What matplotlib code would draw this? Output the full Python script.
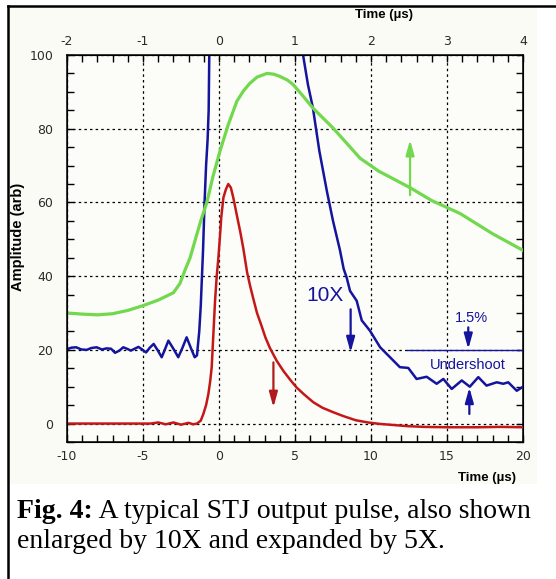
import matplotlib
matplotlib.use("Agg")
import matplotlib.pyplot as plt
from matplotlib.lines import Line2D
from matplotlib.patches import Rectangle
from matplotlib.ticker import MultipleLocator

plt.rcParams['axes.unicode_minus'] = False

# ---------------- data ----------------
# main pulse (bottom axis, microseconds)
red_t = [-10, -8, -6, -4.5, -4, -3.5, -3, -2.5, -2, -1.7, -1.45, -1.2, -1.03, -0.85,
         -0.7, -0.58, -0.48, -0.37, -0.26, -0.15, -0.05, 0.05, 0.15, 0.29, 0.45, 0.61,
         0.78, 0.94, 1.2, 1.4, 1.6, 1.85, 2.05, 2.25, 2.5, 2.8, 3.05, 3.35, 3.8, 4.25,
         4.7, 5.1, 5.6, 6.2, 6.8, 7.5, 8.2, 9.0, 9.8, 10.6, 11.5, 12.4, 13.5, 15, 17,
         18.5, 20]
red_a = [0, 0, 0, 0, 0.3, -0.2, 0.3, -0.3, 0.2, -0.2, 0, 0.8, 2.6, 5,
         8, 11.5, 15.3, 24.3, 33.3, 40, 44.5, 50, 56, 61.3, 63.5, 65,
         64, 61.3, 56, 52, 47.5, 41, 37.3, 34, 30, 26.5, 23.4, 20.5, 17, 14.2,
         11.8, 9.8, 7.9, 5.8, 4.3, 3.1, 2, 0.9, 0.3, -0.1, -0.4, -0.7, -0.9, -1, -1,
         -0.9, -1]

# pulse enlarged 10X (bottom axis)
blue_t = [-10, -9.7, -9.4, -9.05, -8.7, -8.4, -8.05, -7.7, -7.4, -7.1, -6.84, -6.55,
          -6.3, -6.0, -5.8, -5.55, -5.3, -5.05, -4.8, -4.55, -4.3, -4.05, -3.77, -3.55,
          -3.33, -3.0, -2.68, -2.4, -2.13, -1.85, -1.6, -1.45, -1.3, -1.2, -1.05, -0.95,
          -0.85, -0.75, -0.68, -0.64, -0.6, 5.5, 5.53, 5.85, 6.18, 6.6, 7.1, 7.5, 7.96,
          8.2, 8.4, 8.62, 9.06, 9.39, 9.93, 10.6, 11.25, 11.9, 12.45, 13.0, 13.66,
          14.32, 14.76, 15.31, 15.97, 16.5, 17.06, 17.6, 18.27, 18.7, 19.03, 19.59, 20]
blue_a = [20.2, 20.6, 20.7, 20.1, 20.0, 20.5, 20.7, 20.1, 20.4, 20.3, 19.2, 19.8,
          20.7, 20.2, 19.8, 20.3, 20.8, 20.1, 19.3, 20.6, 21.6, 20.0, 18.0, 20.2,
          22.5, 20.3, 18.0, 20.6, 23.4, 20.5, 18.0, 18.5, 25, 32, 47, 60,
          70, 77, 85, 100, 110, 110, 100, 92, 85.6, 74, 63, 55, 47,
          42, 39.6, 36, 33.3, 28, 25.2, 20.7, 18, 15.3, 15.1, 12.1, 12.7,
          10.8, 12.1, 9.4, 11.7, 10.0, 12.6, 10.3, 11.2, 10.8, 11.2, 8.9, 10]

# pulse expanded 5X (top axis, microseconds)
green_t = [-2.0, -1.8, -1.6, -1.4, -1.2, -1.0, -0.8, -0.6, -0.514, -0.44, -0.38,
           -0.316, -0.24, -0.16, -0.08, 0.014, 0.12, 0.236, 0.32, 0.4, 0.5, 0.632,
           0.72, 0.8, 0.9, 0.974, 1.1, 1.236, 1.5, 1.856, 2.1, 2.514, 2.8, 3.172,
           3.6, 4.0]
green_a = [30, 29.7, 29.5, 29.8, 30.7, 32, 33.5, 35.5, 38, 42, 45,
           49.6, 55, 60, 67, 74, 81, 87.5, 90.2, 92.2, 94, 95,
           94.8, 94.2, 93.2, 92, 89, 85.6, 80.2, 72, 68.5, 64, 60.5, 57,
           51.5, 47]

bottom_ticks = [-10, -5, 0, 5, 10, 15, 20]
top_ticks = [-2, -1, 0, 1, 2, 3, 4]
y_ticks = [0, 20, 40, 60, 80, 100]

# ---------------- colours ----------------
C_RED = '#c41818'
C_BLUE = '#14149e'
C_GREEN = '#72d84e'
TICKFONT = 'DejaVu Sans'

W, H = 556, 579
fig = plt.figure(figsize=(W / 100, H / 100), dpi=100)
fig.patch.set_facecolor('white')

# pasted chart background
fig.add_artist(Rectangle((9 / W, 1 - 484 / H), (537 - 9) / W, (484 - 7) / H,
                         transform=fig.transFigure, facecolor='#fbfbf6',
                         edgecolor='none', zorder=-5))
# frame lines
fig.add_artist(Line2D([8 / W, 8 / W], [0, 1 - 6 / H], transform=fig.transFigure,
                      color='black', lw=1.8, zorder=-4))
fig.add_artist(Line2D([8 / W, 1], [1 - 6 / H, 1 - 6 / H], transform=fig.transFigure,
                      color='black', lw=1.8, zorder=-4))

ax = fig.add_axes([67 / W, 1 - 442 / H, (523 - 67) / W, (442 - 55) / H])
ax.set_zorder(1)
ax.set_facecolor('#fcfcf8')
ax.set_xlim(-10, 20)
ax.set_ylim(-5, 100)

ax.plot(red_t, red_a, color=C_RED, lw=1.8, zorder=3)
ax.plot(blue_t, blue_a, color=C_BLUE, lw=1.8, zorder=3)

ax.set_xticks(bottom_ticks)
ax.set_yticks(y_ticks)
ax.xaxis.set_minor_locator(MultipleLocator(1))
ax.yaxis.set_minor_locator(MultipleLocator(5))
ax.tick_params(which='both', direction='in', length=5, width=1, top=False, right=True,
               labelsize=9, colors='black')
ax.tick_params(axis='x', pad=6)
ax.tick_params(axis='y', pad=10)
for lab in ax.get_xticklabels() + ax.get_yticklabels():
    lab.set_fontfamily(TICKFONT)
    lab.set_color('#2a2a2a')
ax.grid(True, which='major', color='black', lw=0.9, ls=(0, (2, 2.5)))
ax.set_axisbelow(True)
for s in ax.spines.values():
    s.set_linewidth(1.1)

ax2 = ax.twiny()
ax2.set_xlim(-2, 4)
ax2.set_xticks(top_ticks)
ax2.xaxis.set_minor_locator(MultipleLocator(0.2))
ax2.tick_params(which='both', direction='in', length=5, width=1, labelsize=9, pad=5)
for lab in ax2.get_xticklabels():
    lab.set_fontfamily(TICKFONT)
    lab.set_color('#2a2a2a')
ax2.plot(green_t, green_a, color=C_GREEN, lw=2.3, zorder=2)

lab_font = dict(family='Liberation Sans', weight='bold', size=9.5)
ax.set_xlabel('Time (µs)', **lab_font)
ax.xaxis.set_label_coords((487 - 67) / 456, (442 - 472) / 387)
ax2.set_xlabel('Time (µs)', **lab_font)
ax2.xaxis.set_label_coords((384 - 67) / 456, (442 - 18) / 387)
ax.set_ylabel('Amplitude (arb)', family='Liberation Sans', weight='bold', size=10.5)
ax.yaxis.set_label_coords((25 - 67) / 456, (442 - 237) / 387)

# annotations
def arrow(a, head, tail, color):
    a.annotate('', xy=head, xytext=tail,
               arrowprops=dict(arrowstyle='-|>,head_length=0.9,head_width=0.25',
                               color=color, lw=1.6, shrinkA=0, shrinkB=0),
               zorder=5)

arrow(ax, (12.57, 77), (12.57, 62), C_GREEN)
arrow(ax, (3.58, 4.4), (3.58, 16.6), '#b01c1c')
arrow(ax, (8.66, 19.3), (8.66, 31), C_BLUE)
arrow(ax, (16.4, 20.2), (16.4, 26.1), C_BLUE)
arrow(ax, (16.47, 9.8), (16.47, 2.6), C_BLUE)
ax.plot([12.34, 20], [20, 20], color=C_BLUE, lw=1.0, zorder=4)

ax.text(6.97, 34.7, '10X', color=C_BLUE, family='Liberation Sans', size=15,
        ha='center', va='center', zorder=5)
ax.text(16.6, 28.6, '1.5%', color=C_BLUE, family='Liberation Sans', size=10.5,
        ha='center', va='center', zorder=5)
ax.text(16.38, 16, 'Undershoot', color=C_BLUE, family='Liberation Sans', size=10.5,
        ha='center', va='center', zorder=5)

# caption
cap_size = 20
y1 = 1 - 511 / H
y2 = 1 - 542 / H
t_bold = fig.text(17 / W, y1, 'Fig. 4:', family='Liberation Serif', weight='bold',
                  size=cap_size, va='center', ha='left')
fig.canvas.draw()
bb = t_bold.get_window_extent()
fig.text(bb.x1 / W, y1, ' A typical STJ output pulse, also shown',
         family='Liberation Serif', size=cap_size, va='center', ha='left')
fig.text(17 / W, y2, 'enlarged by 10X and expanded by 5X.',
         family='Liberation Serif', size=cap_size, va='center', ha='left')

fig.savefig('out.png', dpi=100)
